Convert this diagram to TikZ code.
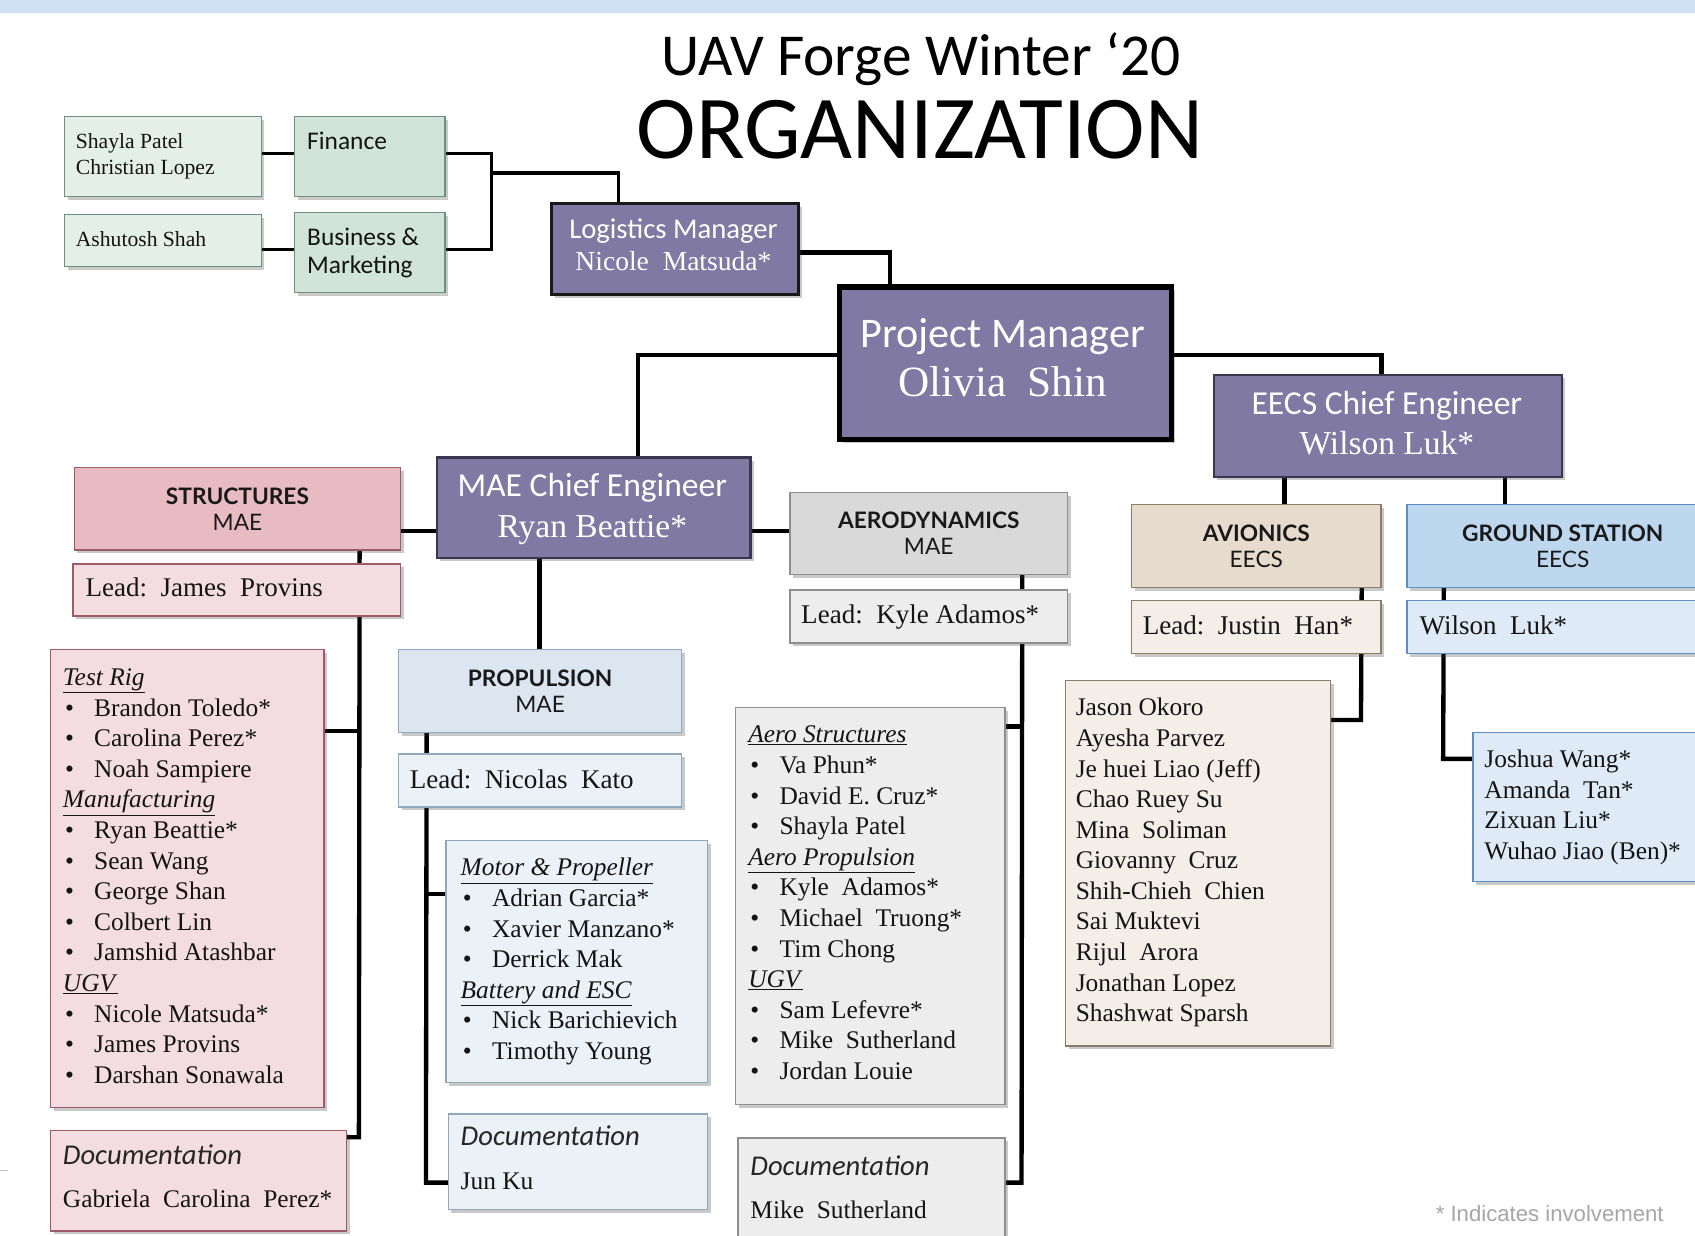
\documentclass[tikz,border=0pt]{standalone}
\usepackage{fontspec}
\setmainfont{Liberation Serif}
\newfontfamily\calfont{Carlito}
\newfontfamily\latofont{Lato}
\newfontfamily\arialfont{Liberation Sans}
\usetikzlibrary{shadows}
\pgfdeclarelayer{bg}
\pgfsetlayers{bg,main}

\definecolor{bandc}{HTML}{CFE2F3}
\definecolor{purp}{HTML}{7F79A3}
\definecolor{purpd}{HTML}{3A3650}
\definecolor{grnA}{HTML}{D0E4D9}
\definecolor{grnB}{HTML}{E4EFEA}
\definecolor{grnD}{HTML}{6E8F80}
\definecolor{pnkA}{HTML}{E8BAC1}
\definecolor{pnkB}{HTML}{F3DDE0}
\definecolor{pnkD}{HTML}{9E5B67}
\definecolor{bluA}{HTML}{DCE6F0}
\definecolor{bluB}{HTML}{EBF1F7}
\definecolor{bluD}{HTML}{90A8BF}
\definecolor{gryA}{HTML}{D9D9D9}
\definecolor{gryB}{HTML}{EDEDED}
\definecolor{gryD}{HTML}{8E8E8E}
\definecolor{tanA}{HTML}{E6DBCD}
\definecolor{tanB}{HTML}{F3EEE7}
\definecolor{tanD}{HTML}{8E7C6A}
\definecolor{gsA}{HTML}{BDD7EE}
\definecolor{gsB}{HTML}{DEEBF7}
\definecolor{gsD}{HTML}{5D8FC2}
\definecolor{notec}{HTML}{A6A6A6}

\newcommand\grphead[1]{\underline{\textit{#1}}}
\newcommand\grpitem[1]{\hspace*{2pt}\makebox[27pt][l]{•}#1}

\tikzset{
  bx/.style={inner sep=0pt, anchor=north west, line width=1.3pt,
    drop shadow={shadow xshift=3pt, shadow yshift=-3pt, opacity=0.28, fill=black!75}},
  purpbox/.style={bx, fill=purp, draw=purpd, line width=2.2pt},
  greenhead/.style={bx, fill=grnA, draw=grnD},
  greenname/.style={bx, fill=grnB, draw=grnD},
  pinkhead/.style={bx, fill=pnkA, draw=pnkD},
  pinkbody/.style={bx, fill=pnkB, draw=pnkD},
  bluehead/.style={bx, fill=bluA, draw=bluD},
  bluebody/.style={bx, fill=bluB, draw=bluD},
  greyhead/.style={bx, fill=gryA, draw=gryD},
  greybody/.style={bx, fill=gryB, draw=gryD},
  tanhead/.style={bx, fill=tanA, draw=tanD},
  tanbody/.style={bx, fill=tanB, draw=tanD},
  gshead/.style={bx, fill=gsA, draw=gsD},
  gsbody/.style={bx, fill=gsB, draw=gsD},
  hdr/.style={font=\latofont\fontsize{21}{24}\selectfont, align=center, text=black!90},
  txt/.style={inner sep=0pt, anchor=base west, text=black!92},
  ctxt/.style={inner sep=0pt, anchor=base},
  ptxt/.style={ctxt, text=white},
  lst/.style={inner sep=0pt, anchor=north west, align=left, text=black!92,
    font=\fontsize{23.5}{28.3}\selectfont},
  leadt/.style={txt, font=\fontsize{25}{30}\selectfont},
  namet/.style={txt, font=\fontsize{23.5}{28.3}\selectfont},
  doct/.style={txt, font=\calfont\itshape\fontsize{26.5}{30}\selectfont, text=black!85},
  conn/.style={line width=4pt, line cap=rect},
  connthin/.style={line width=3pt, line cap=rect}
}

\begin{document}
\begin{tikzpicture}[x=1pt,y=-1pt]
\useasboundingbox (0,0) rectangle (1568,1143);
\clip (0,0) rectangle (1568,1143);
\begin{pgfonlayer}{bg}
\fill[white] (0,0) rectangle (1568,1143);
\fill[bandc] (0,0) rectangle (1568,12);
\draw[black!25, line width=1pt] (0,1083) -- (7,1083);
\end{pgfonlayer}

% title
\node[ctxt, font=\calfont\fontsize{55}{60}\selectfont] (t1) at (852,70) {UAV Forge Winter ‘20};
\node[ctxt, font=\calfont\fontsize{83}{90}\selectfont] (t2) at (851,147) {ORGANIZATION};

% boxes
\node[greenname, minimum width=182pt, minimum height=74pt] (shay) at (59,107) {};
\node[greenhead, minimum width=139pt, minimum height=74pt] (fin) at (272,107) {};
\node[greenname, minimum width=182pt, minimum height=48pt] (ashu) at (59,198) {};
\node[greenhead, minimum width=139pt, minimum height=74pt] (bus) at (272,196) {};
\node[purpbox, draw=black!90, line width=3pt, minimum width=228pt, minimum height=84pt] (logi) at (509,187) {};
\node[purpbox, draw=black, line width=5pt, minimum width=307pt, minimum height=141pt] (pm) at (774,263) {};
\node[purpbox, minimum width=322pt, minimum height=94pt] (eecs) at (1122,346) {};
\node[purpbox, minimum width=290pt, minimum height=93pt] (mae) at (403,422) {};

\node[pinkhead, hdr, minimum width=302pt, minimum height=76pt] (strH) at (68,432) {\textbf{STRUCTURES}\\MAE};
\node[pinkbody, minimum width=303pt, minimum height=48pt] (strL) at (67,521) {};
\node[pinkbody, minimum width=253pt, minimum height=424pt] (strM) at (46,600) {};
\node[pinkbody, minimum width=274pt, minimum height=93pt] (strD) at (46,1045) {};

\node[bluehead, hdr, minimum width=262pt, minimum height=77pt] (proH) at (368,600) {\textbf{PROPULSION}\\MAE};
\node[bluebody, minimum width=262pt, minimum height=49pt] (proL) at (368,697) {};
\node[bluebody, minimum width=242pt, minimum height=224pt] (proM) at (412,777) {};
\node[bluebody, minimum width=240pt, minimum height=88pt] (proD) at (414,1030) {};

\node[greyhead, hdr, minimum width=257pt, minimum height=76pt] (aerH) at (730,455) {\textbf{AERODYNAMICS}\\MAE};
\node[greybody, minimum width=257pt, minimum height=49pt] (aerL) at (730,545) {};
\node[greybody, minimum width=249pt, minimum height=367pt] (aerM) at (680,654) {};
\node[greybody, minimum width=247pt, minimum height=110pt] (aerD) at (682,1052) {};

\node[tanhead, hdr, minimum width=231pt, minimum height=77pt] (aviH) at (1046,466) {\textbf{AVIONICS}\\EECS};
\node[tanbody, minimum width=231pt, minimum height=49pt] (aviL) at (1046,555) {};
\node[tanbody, minimum width=245pt, minimum height=338pt] (aviM) at (985,629) {};

\node[gshead, hdr, minimum width=288pt, minimum height=77pt] (gsH) at (1301,466) {\textbf{GROUND STATION}\\EECS};
\node[gsbody, minimum width=288pt, minimum height=49pt] (gsL) at (1301,555) {};
\node[gsbody, minimum width=240pt, minimum height=138pt] (gsM) at (1362,677) {};

% green texts
\node[lst, font=\fontsize{20}{24}\selectfont] (shayT) at (70,120) {\rule{0pt}{17pt}Shayla Patel\\Christian Lopez};
\node[txt, font=\fontsize{20}{24}\selectfont] (ashuT) at (70,228) {Ashutosh Shah};
\node[txt, font=\calfont\fontsize{23.5}{25.5}\selectfont] (finT) at (284,138) {Finance};
\node[lst, font=\calfont\fontsize{23.5}{25.5}\selectfont] (busT) at (284,208) {\rule{0pt}{19pt}Business \&\\Marketing};

% purple texts
\node[ptxt, font=\calfont\fontsize{26.5}{30}\selectfont] (logiA) at (623,221) {Logistics Manager};
\node[ptxt, font=\fontsize{25.5}{30}\selectfont] (logiB) at (623,250) {Nicole\ \ Matsuda*};
\node[ptxt, font=\calfont\fontsize{39}{44}\selectfont] (pmA) at (927.5,321) {Project Manager};
\node[ptxt, font=\fontsize{40}{44}\selectfont] (pmB) at (927.5,367) {Olivia\ \ Shin};
\node[ptxt, font=\calfont\fontsize{31}{36}\selectfont] (eecsA) at (1283,383) {EECS Chief Engineer};
\node[ptxt, font=\fontsize{31}{36}\selectfont] (eecsB) at (1283,420) {Wilson Luk*};
\node[ptxt, font=\calfont\fontsize{31}{36}\selectfont] (maeA) at (548,459) {MAE Chief Engineer};
\node[ptxt, font=\fontsize{31}{36}\selectfont] (maeB) at (548,497) {Ryan Beattie*};

% leads
\node[leadt] (strLT) at (79,552) {Lead:\ \ James\ \ Provins};
\node[leadt] (proLT) at (379,729) {Lead:\ \ Nicolas\ \ Kato};
\node[leadt] (aerLT) at (741,577) {Lead:\ \ Kyle Adamos*};
\node[leadt] (aviLT) at (1057,587) {Lead:\ \ Justin\ \ Han*};
\node[leadt] (gsLT) at (1313,587) {Wilson\ \ Luk*};

% lists
\node[lst] (strMT) at (58,614) {\rule{0pt}{20pt}\grphead{Test Rig}\\
\grpitem{Brandon\ Toledo*}\\
\grpitem{Carolina\ Perez*}\\
\grpitem{Noah\ Sampiere}\\
\grphead{Manufacturing}\\
\grpitem{Ryan\ Beattie*}\\
\grpitem{Sean\ Wang}\\
\grpitem{George\ Shan}\\
\grpitem{Colbert\ Lin}\\
\grpitem{Jamshid\ Atashbar}\\
\grphead{UGV}\\
\grpitem{Nicole\ Matsuda*}\\
\grpitem{James\ Provins}\\
\grpitem{Darshan\ Sonawala}};

\node[lst] (proMT) at (426,790) {\rule{0pt}{20pt}\grphead{Motor \& Propeller}\\
\grpitem{Adrian\ Garcia*}\\
\grpitem{Xavier\ Manzano*}\\
\grpitem{Derrick\ Mak}\\
\grphead{Battery and ESC}\\
\grpitem{Nick\ Barichievich}\\
\grpitem{Timothy\ Young}};

\node[lst] (aerMT) at (692,667) {\rule{0pt}{20pt}\grphead{Aero Structures}\\
\grpitem{Va\ Phun*}\\
\grpitem{David\ E.\ Cruz*}\\
\grpitem{Shayla\ Patel}\\
\grphead{Aero Propulsion}\\
\grpitem{Kyle\ \ Adamos*}\\
\grpitem{Michael\ \ Truong*}\\
\grpitem{Tim\ Chong}\\
\grphead{UGV}\\
\grpitem{Sam\ Lefevre*}\\
\grpitem{Mike\ \ Sutherland}\\
\grpitem{Jordan\ Louie}};

\node[lst] (aviMT) at (995,642) {\rule{0pt}{20pt}Jason Okoro\\
Ayesha Parvez\\
Je huei Liao (Jeff)\\
Chao Ruey Su\\
Mina\ \ Soliman\\
Giovanny\ \ Cruz\\
Shih-Chieh\ \ Chien\\
Sai Muktevi\\
Rijul\ \ Arora\\
Jonathan Lopez\\
Shashwat Sparsh};

\node[lst] (gsMT) at (1373,690) {\rule{0pt}{20pt}Joshua Wang*\\
Amanda\ \ Tan*\\
Zixuan Liu*\\
Wuhao Jiao (Ben)*};

% documentation
\node[doct] (strDA) at (58,1077) {Documentation};
\node[namet] (strDB) at (58,1117) {Gabriela\ \ Carolina\ \ Perez*};
\node[doct] (proDA) at (426,1060) {Documentation};
\node[namet] (proDB) at (426,1100) {Jun Ku};
\node[doct] (aerDA) at (694,1087) {Documentation};
\node[namet] (aerDB) at (694,1127) {Mike\ \ Sutherland};

% footnote
\node[txt, text=notec, font=\arialfont\fontsize{20.5}{24}\selectfont] (note) at (1328,1130) {* Indicates involvement};

% connectors
\begin{pgfonlayer}{bg}
\coordinate (gj) at (455,160);
\draw[connthin] ([yshift=3pt]shay.east) -- ([yshift=3pt]fin.west);
\draw[connthin] ([yshift=3pt]bus.west) -- ([yshift=3pt]bus.west -| ashu.east);
\draw[connthin] ([yshift=3pt]fin.east) -| (gj);
\draw[connthin] ([yshift=3pt]bus.east) -| (gj);
\draw[connthin] (gj) -| ([xshift=-52pt]logi.north);
\draw[conn] ([yshift=-3pt]logi.east) -| ([xshift=-106.5pt]pm.north);
\draw[conn] ([yshift=7.5pt]pm.east) -| ([xshift=-6pt]eecs.north);
\draw[conn] ([yshift=7.5pt]pm.west) -| ([xshift=41pt]mae.north);
\draw[conn] ([yshift=-21.5pt]mae.west) -- ([yshift=-21.5pt]mae.west -| strH.east);
\draw[conn] ([yshift=-21.5pt]mae.east) -- ([yshift=-21.5pt]mae.east -| aerH.west);
\draw[conn] ([xshift=-50pt]mae.south) -- ([xshift=-50pt]mae.south |- proH.north);
\draw[conn] ([xshift=-96pt]eecs.south) -- ([xshift=-96pt]eecs.south |- aviH.north);
\draw[conn] ([xshift=108pt]eecs.south) -- ([xshift=108pt]eecs.south |- gsH.north);
% structures
\coordinate (sS) at (332,1052);
\coordinate (sB) at (332,676);
\draw[conn] ([xshift=113pt]strH.south) -- (sS) -- (sS -| strD.east);
\draw[conn] (sB) -- (sB -| strM.east);
% propulsion
\coordinate (pS) at (394,1094);
\coordinate (pB) at (394,827);
\draw[conn] ([xshift=-105pt]proH.south) -- (pS) -- (pS -| proD.west);
\draw[conn] (pB) -- (pB -| proM.west);
% aero
\coordinate (aS) at (945,1094);
\coordinate (aB) at (945,672);
\draw[conn] ([xshift=86.5pt]aerH.south) -- (aS) -- (aS -| aerD.east);
\draw[conn] (aB) -- (aB -| aerM.east);
% avionics
\coordinate (vS) at (1259,666);
\draw[conn] ([xshift=97.5pt]aviH.south) -- (vS) -- (vS -| aviM.east);
% ground station
\coordinate (gS) at (1335,702);
\draw[conn] ([xshift=-110pt]gsH.south) -- (gS) -- (gS -| gsM.west);
\end{pgfonlayer}
\end{tikzpicture}
\end{document}
